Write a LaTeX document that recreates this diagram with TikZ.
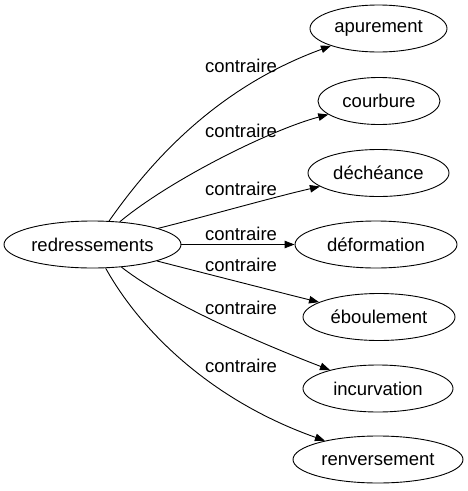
\documentclass[tikz,border=0pt]{standalone}
\usepackage{fontspec}
\setmainfont{Liberation Sans}
\usetikzlibrary{shapes.geometric,arrows.meta}
\begin{document}
\begin{tikzpicture}[x=1pt,y=-1pt,
  word/.style={draw,ellipse,line width=0.9pt,inner sep=0pt,minimum height=47pt,font=\fontsize{18.5}{20}\selectfont},
  rel/.style={line width=0.9pt,-{Triangle[length=10pt,width=7.5pt]}},
  lbl/.style={font=\fontsize{18.5}{20}\selectfont,inner sep=0pt}]
\useasboundingbox (0,0) rectangle (468,491);
\node[word,minimum width=177pt] (c) at (92.5,244.5) {redressements};
\node[word,minimum width=137pt] (a) at (378.5,28.5) {apurement};
\node[word,minimum width=122pt] (b) at (379,101) {courbure};
\node[word,minimum width=141pt] (d) at (378.5,173) {déchéance};
\node[word,minimum width=162pt] (e) at (376,244.5) {déformation};
\node[word,minimum width=152pt] (f) at (379,317) {éboulement};
\node[word,minimum width=150pt] (g) at (378,388.5) {incurvation};
\node[word,minimum width=170pt] (h) at (378,459.5) {renversement};
\draw[rel] (c) .. controls (145,170) and (210,90) .. (a);
\draw[rel] (c) .. controls (170,180) and (270,130) .. (b);
\draw[rel] (c) .. controls (200,218) and (270,198) .. (d);
\draw[rel] (c) -- (e);
\draw[rel] (c) .. controls (200,272) and (270,290) .. (f);
\draw[rel] (c) .. controls (170,305) and (265,345) .. (g);
\draw[rel] (c) .. controls (140,330) and (210,400) .. (h);
\node[lbl] (l1) at (241,66) {contraire};
\node[lbl] (l2) at (241,131) {contraire};
\node[lbl] (l3) at (241,189) {contraire};
\node[lbl] (l4) at (241,234) {contraire};
\node[lbl] (l5) at (241,265) {contraire};
\node[lbl] (l6) at (241,308) {contraire};
\node[lbl] (l7) at (241,366) {contraire};
\end{tikzpicture}
\end{document}
